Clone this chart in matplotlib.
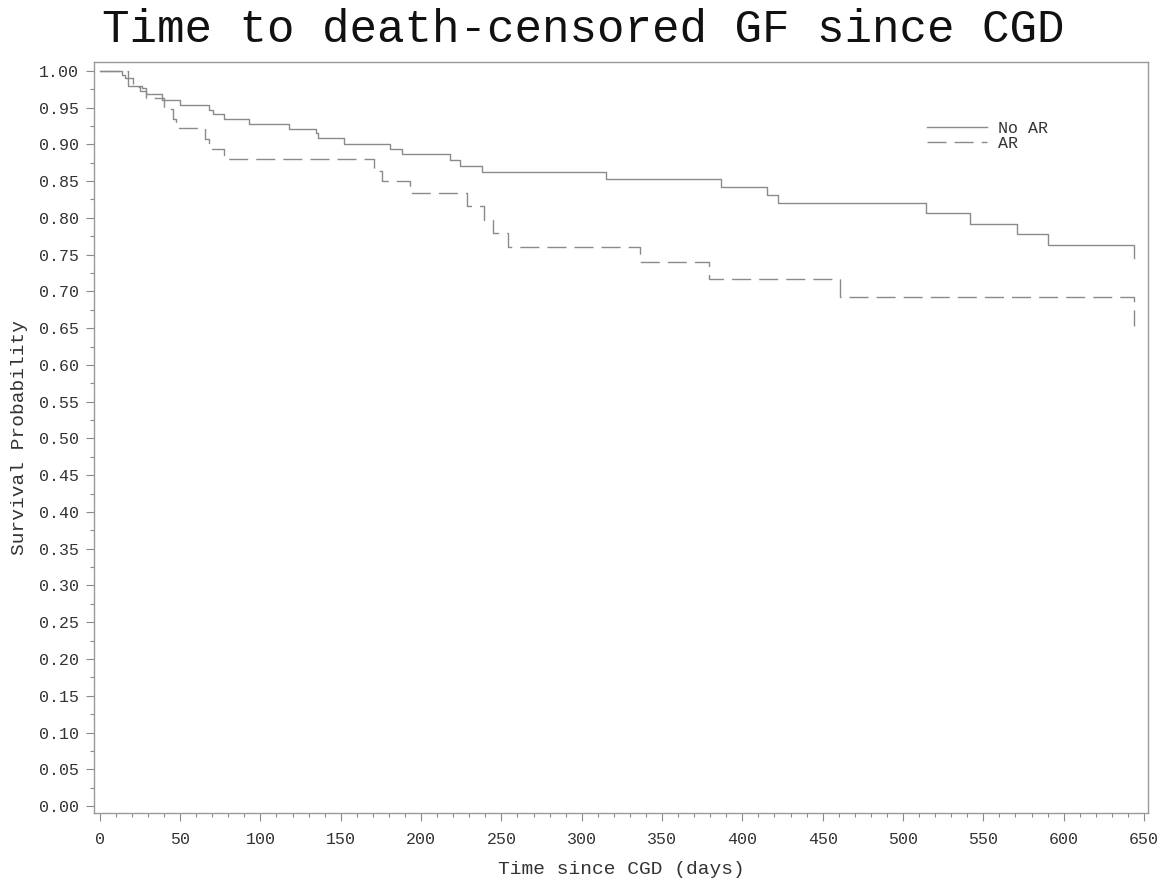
import matplotlib
matplotlib.use("Agg")
import matplotlib.pyplot as plt
from matplotlib.ticker import MultipleLocator

# Kaplan-Meier estimates (event time in days, survival after the step)
no_ar_days = [0, 13.8, 16, 17.5, 26, 29, 38.7, 50, 68, 70.2, 77.5, 93.2, 117.5, 134.3, 136,
              152.3, 180.8, 188.4, 218, 224.3, 238.2, 315.2, 387, 415.2, 422, 514, 541.9,
              571, 590, 644, 644]
no_ar_surv = [1.0, 0.995, 0.990, 0.979, 0.976, 0.968, 0.960, 0.954, 0.947, 0.941, 0.935, 0.928,
              0.9215, 0.916, 0.908, 0.901, 0.894, 0.887, 0.879, 0.871, 0.862, 0.853, 0.842,
              0.831, 0.820, 0.806, 0.792, 0.778, 0.763, 0.763, 0.745]

ar_days = [0, 17.9, 21, 25, 29, 39.7, 45.5, 47.6, 65.6, 68.3, 77.5, 170.8, 175.6, 193.2,
           228.5, 239.3, 245, 254.2, 336, 379, 461, 644, 644]
ar_surv = [1.0, 0.990, 0.978, 0.972, 0.963, 0.948, 0.934, 0.922, 0.907, 0.894, 0.880, 0.864,
           0.850, 0.8345, 0.816, 0.797, 0.780, 0.761, 0.740, 0.717, 0.692, 0.692, 0.6535]

group_labels = ["No AR", "AR"]

plt.rcParams["font.family"] = ["Liberation Mono", "DejaVu Sans Mono"]
plt.rcParams["lines.scale_dashes"] = False

line_color = "#8a8a8a"
text_color = "#333333"

fig = plt.figure(figsize=(11.73, 8.82), dpi=100)
ax = fig.add_axes([0.0801, 0.0782, 0.8986, 0.8515])

ax.step(no_ar_days, no_ar_surv, where="post", color=line_color, linewidth=1.0, label=group_labels[0])
ax.step(ar_days, ar_surv, where="post", color=line_color, linewidth=1.0,
        dashes=(13.7, 5.8), label=group_labels[1])

ax.set_xlim(-3.6, 652.5)
ax.set_ylim(-0.0095, 1.012)

ax.xaxis.set_major_locator(MultipleLocator(50))
ax.xaxis.set_minor_locator(MultipleLocator(10))
ax.yaxis.set_major_locator(MultipleLocator(0.05))
ax.yaxis.set_minor_locator(MultipleLocator(0.025))
ax.yaxis.set_major_formatter(plt.FuncFormatter(lambda v, _: "{0:.2f}".format(abs(v))))

ax.tick_params(which="major", direction="out", length=6, width=0.8, color=line_color,
               labelsize=12, labelcolor=text_color, pad=5)
ax.tick_params(which="minor", direction="out", length=3, width=0.8, color=line_color)
ax.tick_params(axis="x", which="major", pad=8)
for spine in ax.spines.values():
    spine.set_color("#999999")
    spine.set_linewidth(1.0)

ax.set_xlabel("Time since CGD (days)", fontsize=14, color=text_color, labelpad=10)
ax.set_ylabel("Survival Probability", fontsize=14, color=text_color, labelpad=8)

fig.text(0.497, 0.966, "Time to death-censored GF since CGD", fontsize=33, color="#111111",
         ha="center", va="center")

leg = ax.legend(loc="upper left", bbox_to_anchor=(0.779, 0.937), frameon=False,
                fontsize=12, handlelength=3.6, handletextpad=0.7, labelspacing=0.0,
                borderpad=0.2)
for text in leg.get_texts():
    text.set_color(text_color)

fig.savefig("out.png", dpi=100)
